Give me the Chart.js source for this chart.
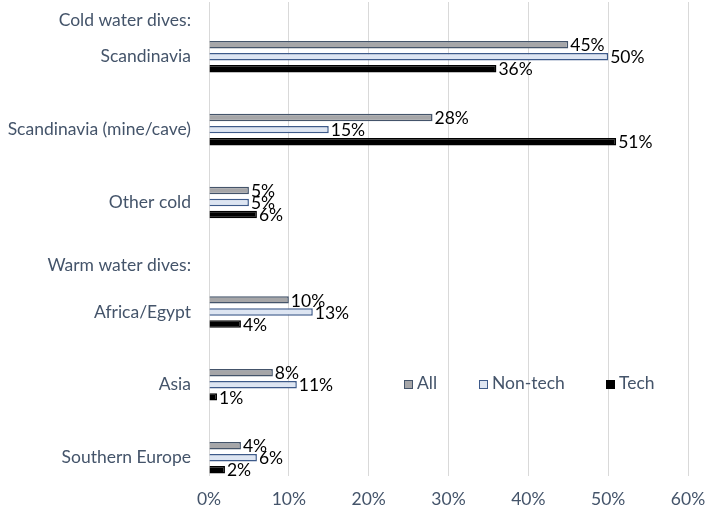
<!DOCTYPE html>
<html>
<head>
<meta charset="utf-8">
<script src="https://cdn.jsdelivr.net/npm/chart.js@4/dist/chart.umd.min.js"></script>
<style>
  html, body { margin: 0; padding: 0; background: #fff; }
  #wrap { position: relative; width: 720px; height: 519px; }
  #legend { position: absolute; top: 372px; left: 404px; font: 17.5px Lato, sans-serif; color: #44546a; }
  #legend span.item { position: absolute; white-space: nowrap; }
  #legend span.box { display: inline-block; width: 9px; height: 9px; margin-right: 4px; box-sizing: border-box; vertical-align: 0px; }
</style>
</head>
<body>
<div id="wrap">
  <canvas id="chart" width="720" height="519"></canvas>
  <div id="legend"></div>
</div>
<script>
"use strict"

// categories, headers get null values
var categories = [
    "Cold water dives:", "Scandinavia", "", "Scandinavia (mine/cave)", "", "Other cold", "",
    ["Warm water dives:", ""], "Africa/Egypt", "", "Asia", "", "Southern Europe"
];
var allDivers   = [null, 45, null, 28, null, 5, null, null, 10, null, 8, null, 4];
var nonTech     = [null, 50, null, 15, null, 5, null, null, 13, null, 11, null, 6];
var tech        = [null, 36, null, 51, null, 6, null, null, 4, null, 1, null, 2];
var seriesNames = ["All", "Non-tech", "Tech"];
var xTicks = [0, 10, 20, 30, 40, 50, 60];

var textColor = "#44546a";
var fontFamily = "Lato, 'Open Sans', sans-serif";
var fontSize = 17.5;

var fills = ["#a6a6a8", "#dde5f2", "#000000"];
var borders = ["#44546a", "#3d5a8a", "#000000"];

//data labels at the bar ends
var barLabels = {
    id: "barLabels",
    afterDatasetsDraw: function(chart){
        var ctx = chart.ctx;
        ctx.save();
        ctx.font = fontSize + "px " + fontFamily;
        ctx.fillStyle = "#000";
        ctx.textBaseline = "middle";
        ctx.textAlign = "left";
        chart.data.datasets.forEach(function(ds, i){
            var meta = chart.getDatasetMeta(i);
            meta.data.forEach(function(bar, j){
                var v = ds.data[j];
                if(v === null || v === undefined){
                    return;
                }
                ctx.fillText(v + "%", bar.x + 2, bar.y + 1);
            });
        });
        ctx.restore();
    }
};

var chart = new Chart(document.getElementById("chart"), {
    type: "bar",
    data: {
        labels: categories,
        datasets: [allDivers, nonTech, tech].map(function(d, i){
            return {
                label: seriesNames[i],
                data: d,
                backgroundColor: fills[i],
                borderColor: borders[i],
                borderWidth: 1.5,
                categoryPercentage: 0.99,
                barPercentage: 0.62,
                skipNull: false
            };
        })
    },
    options: {
        indexAxis: "y",
        responsive: false,
        animation: false,
        layout: { padding: { top: 2, right: 32, left: 0, bottom: 0 } },
        plugins: {
            legend: { display: false },
            tooltip: { enabled: false }
        },
        scales: {
            x: {
                min: 0,
                max: 60,
                afterBuildTicks: function(scale){
                    scale.ticks = xTicks.map(function(v){ return { value: v }; });
                },
                afterFit: function(scale){ scale.height = 43; },
                grid: { color: "#d9d9d9", lineWidth: 1, drawTicks: false },
                border: { display: false },
                ticks: {
                    color: textColor,
                    padding: 13,
                    font: { family: fontFamily, size: fontSize },
                    callback: function(v){ return v + "%"; }
                }
            },
            y: {
                afterFit: function(scale){
                    scale.width = 209;
                    scale.paddingTop = 0;
                    scale.paddingBottom = 0;
                },
                grid: { display: false, drawTicks: false },
                border: { display: false },
                ticks: {
                    color: textColor,
                    padding: 18,
                    autoSkip: false,
                    font: { family: fontFamily, size: fontSize }
                }
            }
        }
    },
    plugins: [barLabels]
});

//legend inside the plot
var legendPos = [0, 75, 202];
var legend = document.getElementById("legend");
seriesNames.forEach(function(name, i){
    var item = document.createElement("span");
    item.className = "item";
    item.style.left = legendPos[i] + "px";
    var box = document.createElement("span");
    box.className = "box";
    box.style.background = fills[i];
    box.style.border = "1.5px solid " + borders[i];
    item.appendChild(box);
    item.appendChild(document.createTextNode(name));
    legend.appendChild(item);
});
</script>
</body>
</html>
